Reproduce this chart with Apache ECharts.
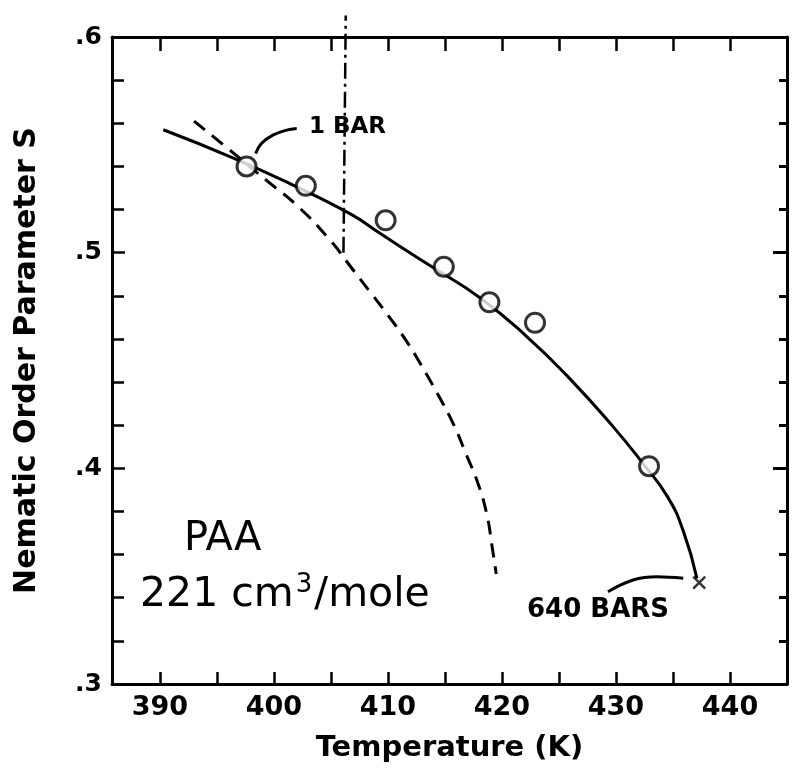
<!DOCTYPE html>
<html>
<head>
<meta charset="utf-8">
<script src="https://cdn.jsdelivr.net/npm/echarts@6/dist/echarts.min.js"></script>
<style>
  html, body { margin: 0; padding: 0; background: #fff; }
  #main { width: 794px; height: 771px; }
</style>
</head>
<body>
<div id="main"></div>
<script>
// tick labels
var xTicks = [390, 395, 400, 405, 410, 415, 420, 425, 430, 435, 440, 445];
var xLabels = [390, 400, 410, 420, 430, 440];

// measured order parameter (open circles)
var measured = [[397.6, 0.540], [402.8, 0.531], [409.8, 0.515], [414.9, 0.4935],
	[418.9, 0.477], [422.9, 0.4675], [432.9, 0.401]];
// 640 bar end point (cross)
var endPoint = [[437.3, 0.347]];
// solid fitted curve
var fitCurve = [[390.3, 0.557], [396.4, 0.544], [401.4, 0.532], [406.7, 0.518], [409.3, 0.509],
	[412.5, 0.498], [414.0, 0.493], [418.1, 0.479], [422.2, 0.461], [425.7, 0.443],
	[429.8, 0.419], [432.4, 0.402], [434.5, 0.387], [435.9, 0.371], [437.1, 0.349]];
// dashed curve
var dashCurve = [[393.0, 0.561], [395.8, 0.549], [399.7, 0.532], [402.0, 0.522], [404.9, 0.506],
	[406.8, 0.493], [408.4, 0.482], [410.0, 0.471], [411.5, 0.460], [412.9, 0.448],
	[414.3, 0.435], [415.7, 0.421], [416.9, 0.406], [417.9, 0.393], [418.7, 0.378],
	[419.1, 0.365], [419.5, 0.351]];
// vertical 1 bar transition marker
var transLine = [[406.1, 0.500], [406.3, 0.610]];
// leader curves for the labels
var leader1 = [[398.4, 0.546], [398.9, 0.5506], [399.9, 0.5545], [401.1, 0.5568], [402.0, 0.5576]];
var leader640 = [[429.3, 0.3428], [431.5, 0.3482], [433.6, 0.3497], [435.9, 0.349]];

var FONT = 'DejaVu Sans';
var crossPath = 'path://M0,0L10,10M10,0L0,10';

var myChart = echarts.init(document.getElementById('main'));

var frame = { show: true, lineStyle: { color: '#000', width: 3 } };

var option = {
	backgroundColor: '#fff',
	animation: false,
	grid: { left: 112, right: 7, top: 37, bottom: 87, containLabel: false },
	xAxis: [{
		type: 'value',
		min: 385.8,
		max: 445,
		position: 'bottom',
		name: 'Temperature (K)',
		nameLocation: 'middle',
		nameGap: 50,
		nameTextStyle: { fontFamily: FONT, fontSize: 29, fontWeight: 'bold', color: '#000' },
		axisLine: frame,
		axisTick: { show: true, inside: true, length: 12, customValues: xTicks, lineStyle: { color: '#000', width: 2.5 } },
		axisLabel: { customValues: xLabels, fontFamily: FONT, fontSize: 27, fontWeight: 'bold', color: '#000', margin: 10 },
		splitLine: { show: false }
	}, {
		type: 'value',
		min: 385.8,
		max: 445,
		position: 'top',
		axisLine: frame,
		axisTick: { show: true, inside: true, length: 14, customValues: xTicks, lineStyle: { color: '#000', width: 2.5 } },
		axisLabel: { show: false },
		splitLine: { show: false }
	}],
	yAxis: [{
		type: 'value',
		min: 0.3,
		max: 0.6,
		interval: 0.1,
		position: 'left',
		name: 'Nematic Order Parameter S',
		nameLocation: 'middle',
		nameGap: 70,
		nameTextStyle: { fontFamily: FONT, fontSize: 30, fontWeight: 'bold', color: '#000' },
		axisLine: frame,
		axisTick: { show: true, inside: true, length: 13, lineStyle: { color: '#000', width: 2.5 } },
		minorTick: { show: true, splitNumber: 5, length: 12, lineStyle: { color: '#000', width: 2.5 } },
		axisLabel: {
			fontFamily: FONT, fontSize: 25, fontWeight: 'bold', color: '#000', margin: 10,
			formatter: function (v) { return '.' + Math.round(v * 10); }
		},
		splitLine: { show: false }
	}, {
		type: 'value',
		min: 0.3,
		max: 0.6,
		interval: 0.1,
		position: 'right',
		axisLine: frame,
		axisTick: { show: true, inside: true, length: 14, lineStyle: { color: '#000', width: 3 } },
		minorTick: { show: true, splitNumber: 5, length: 8, lineStyle: { color: '#000', width: 3 } },
		axisLabel: { show: false },
		splitLine: { show: false }
	}],
	series: [{
		type: 'line',
		data: fitCurve,
		smooth: 0.5,
		showSymbol: false,
		lineStyle: { color: '#000', width: 3 },
		z: 3
	}, {
		type: 'line',
		data: dashCurve,
		smooth: 0.5,
		showSymbol: false,
		lineStyle: { color: '#000', width: 3, type: [14, 9] },
		z: 3
	}, {
		type: 'line',
		data: transLine,
		showSymbol: false,
		clip: false,
		lineStyle: { color: '#000', width: 2.5, type: [16, 5, 3, 5] },
		z: 3
	}, {
		type: 'line',
		data: leader1,
		smooth: 0.4,
		showSymbol: false,
		lineStyle: { color: '#000', width: 3 },
		z: 3
	}, {
		type: 'line',
		data: leader640,
		smooth: 0.4,
		showSymbol: false,
		lineStyle: { color: '#000', width: 3 },
		z: 3
	}, {
		type: 'scatter',
		data: measured,
		symbol: 'circle',
		symbolSize: 19,
		itemStyle: { color: '#fff', borderColor: '#000', borderWidth: 3 },
		z: 5
	}, {
		type: 'scatter',
		data: endPoint,
		symbol: crossPath,
		symbolSize: 12,
		itemStyle: { color: 'none', borderColor: '#000', borderWidth: 2.5 },
		z: 5
	}],
	graphic: [{
		type: 'text',
		left: 309, top: 116,
		style: { text: '1 BAR', font: 'bold 23px "DejaVu Sans"', fill: '#000' }
	}, {
		type: 'text',
		left: 527, top: 597,
		style: { text: '640 BARS', font: 'bold 26px "DejaVu Sans"', fill: '#000' }
	}, {
		type: 'text',
		left: 184, top: 520,
		style: { text: 'PAA', font: '40px "DejaVu Sans"', fill: '#000' }
	}, {
		type: 'text',
		left: 140, top: 572,
		style: {
			text: '221 cm{sup|3}/mole',
			font: '41px "DejaVu Sans"',
			fill: '#000',
			rich: { sup: { fontSize: 26, fontFamily: FONT, verticalAlign: 'top', padding: [0, 2, 20, 2] } }
		}
	}],
	tooltip: { show: false }
};

myChart.setOption(option);
</script>
</body>
</html>
